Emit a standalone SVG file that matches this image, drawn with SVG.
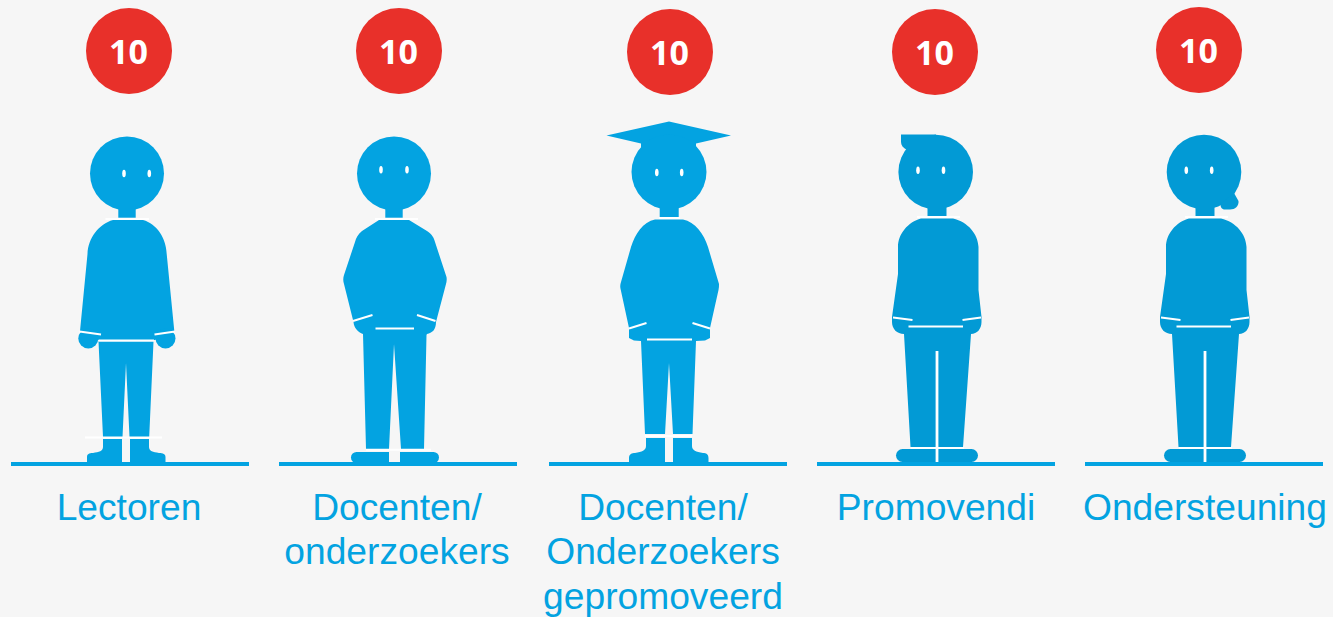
<svg xmlns="http://www.w3.org/2000/svg" width="1333" height="617" viewBox="0 0 1333 617">
<style>
.b{fill:#03a3e1}.d{fill:#029ad5}
.w{stroke:#fff;stroke-width:2;fill:none}
.s{stroke:#fff;stroke-width:2.800;fill:none}
.e{fill:#fff}
.g{fill:#03a3e1}
.l{font-family:"Liberation Sans",Arial,sans-serif;font-size:37.200px;fill:#03a3e1;text-anchor:middle}
.n{font-family:"Open Sans",sans-serif;font-weight:700;font-size:34px;fill:#fff;text-anchor:middle}
.r{fill:#e8302a}
</style>
<rect width="1333" height="617" fill="#f6f6f6"/>
<g id="connectors"/>
<g id="node-lectoren" class="b">
<circle class="r" cx="129" cy="51" r="43"/>
<text class="n" x="128.500" y="63.500">10</text>
<circle cx="127" cy="173.500" r="37"/>
<rect x="118.300" y="205" width="17.400" height="12.700"/>
<path d="M113 220H143C157 224 166 238 166.700 254L174.300 331L155 340H99L80 331L87.500 254C88 238 99 224 113 220Z"/>
<circle cx="88.300" cy="338.500" r="10"/>
<circle cx="165.500" cy="338.500" r="10"/>
<path d="M98.500 341.500H153.500L149.200 437H129.500L126 363L122.500 437H103Z"/>
<path d="M103 439H122V462H87V457C87 454 89 453 93 453C99 452 103 451 103 447Z"/>
<path d="M130 439H149V447C149 451 153 452 159 453C163 453 165.500 454 165.500 457V462H130Z"/>
<ellipse class="e" cx="124" cy="173.500" rx="1.800" ry="3.800"/>
<ellipse class="e" cx="149.300" cy="173.500" rx="1.800" ry="3.800"/>
<path class="w" d="M105.500 219H149M79.500 331.500L101 334.500M175 331.500L154.500 334.500M99 340.500H154M85 437.500H162"/>
<rect class="g" x="11" y="462" width="238" height="4"/>
<text class="l" x="129" y="520">Lectoren</text>
</g>
<g id="node-docenten" class="b">
<circle class="r" cx="399" cy="51" r="43"/>
<text class="n" x="398.500" y="63.500">10</text>
<circle cx="394" cy="173.500" r="37"/>
<rect x="385.300" y="205" width="17.400" height="12.700"/>
<path d="M379 220H409L427 231C432 234 434 238 435 242L446.500 277C447 280 446.500 282 446 284L436 322C436 330 432 333 427 334L426.500 335L424 449H401L394 344L389 449H366L363 334C358 332 354 328 353.500 322L344 284C343 281 343 278 344 275L355 242C356 238 358 234 362 231Z"/>
<rect x="351" y="452" width="88" height="11" rx="5.500"/>
<rect x="389" y="449" width="11" height="13" fill="#f6f6f6"/>
<ellipse class="e" cx="381" cy="169.700" rx="1.800" ry="3.800"/>
<ellipse class="e" cx="407" cy="169.700" rx="1.800" ry="3.800"/>
<path class="w" d="M375 219H418M353 321L372.500 315M435.500 321L417 315M375.500 328.500H414M366 449.800H431"/>
<rect class="g" x="279" y="462" width="238" height="4"/>
<text class="l" x="397" y="520">Docenten/</text>
<text class="l" x="397" y="564">onderzoekers</text>
</g>
<g id="node-gepromoveerd" class="b">
<circle class="r" cx="670" cy="52" r="43"/>
<text class="n" x="669.500" y="64.500">10</text>
<path d="M606.500 135.500L669 121.500L731 135.500L696 143.500V148L692 152H645L641 148V143.500Z"/>
<circle cx="669" cy="172" r="37.500"/>
<rect x="659.700" y="205" width="19" height="12"/>
<path d="M655 219.500H683C695 222 704 234 708 247L719 284C719 286 719 288 718.500 290L710 328V338L705 340.500L696 341L692.500 434H673L669 363L665 434H645L641 341L634 340.500L629 338L629 328L620.800 290C620 287 620 285 621 282L631 247C635 234 643 222 655 219.500Z"/>
<path d="M646 438H665V463H629V458C629 454 632 453 635 453C642 452 646 450 646 446Z"/>
<path d="M673 438H692V446C692 450 696 452 703 453C706 453 708.500 454 708.500 458V463H673Z"/>
<ellipse class="e" cx="656.800" cy="172.500" rx="1.800" ry="3.800"/>
<ellipse class="e" cx="681.700" cy="172.500" rx="1.800" ry="3.800"/>
<path class="w" d="M629 328.500L646.500 323M710 328.500L692.500 323M647 339.500H692M645 436H692M659 218H680"/>
<rect class="g" x="549" y="462" width="238" height="4"/>
<text class="l" x="663" y="520">Docenten/</text>
<text class="l" x="663" y="564">Onderzoekers</text>
<text class="l" x="663" y="609">gepromoveerd</text>
</g>
<g id="node-promovendi" class="d">
<circle class="r" cx="935" cy="52" r="43"/>
<text class="n" x="934.500" y="64.500">10</text>
<circle cx="935.700" cy="172" r="37.300"/>
<path d="M901 134.500H936V150H907C903 148 901 145 901 142Z"/>
<rect x="927.500" y="205" width="19" height="11.500"/>
<path d="M921 218.500H953C968 222 978 234 978.500 247V290L981.500 317V322C981.500 329 977 334 971 334L963 447H938V351L936 351V447H910.500L904 334C897 334 892 329 892 322V317L898 274V247C898 234 908 222 921 218.500Z"/>
<rect x="896" y="449" width="82" height="13" rx="6.500"/>
<ellipse class="e" cx="918" cy="170.300" rx="1.800" ry="3.800"/>
<ellipse class="e" cx="943.500" cy="170.300" rx="1.800" ry="3.800"/>
<path class="w" d="M917 217H960M893 317.500L912.500 320M981 317.500L962.500 320M908.500 326.500H963M911 448H964"/>
<path class="s" d="M937 351V462"/>
<rect class="g" x="817" y="462" width="238" height="4"/>
<text class="l" x="936" y="520">Promovendi</text>
</g>
<g id="node-ondersteuning" class="d">
<circle class="r" cx="1199" cy="50" r="43"/>
<text class="n" x="1198.500" y="62.500">10</text>
<circle cx="1204" cy="172" r="37.300"/>
<path d="M1234 193L1238.500 201C1239 206 1235 209.500 1230 209.500H1225C1221.500 209.500 1220.500 207 1220.500 204Z"/>
<rect x="1195.500" y="205" width="19" height="11.500"/>
<path d="M1189 218.500H1221C1236 222 1246 234 1246.500 247V290L1249.500 317V322C1249.500 329 1245 334 1239 334L1231 447H1206V351L1204 351V447H1178.500L1172 334C1165 334 1160 329 1160 322V317L1166 274V247C1166 234 1176 222 1189 218.500Z"/>
<rect x="1164" y="449" width="82" height="13" rx="6.500"/>
<ellipse class="e" cx="1186.300" cy="170.300" rx="1.800" ry="3.800"/>
<ellipse class="e" cx="1211.700" cy="170.300" rx="1.800" ry="3.800"/>
<path class="w" d="M1185 217H1228M1161 317.500L1180.500 320M1249 317.500L1230.500 320M1176.500 326.500H1231M1179 448H1232"/>
<path class="s" d="M1205 351V462"/>
<rect class="g" x="1085" y="462" width="238" height="4"/>
<text class="l" x="1205" y="520">Ondersteuning</text>
</g>
</svg>
